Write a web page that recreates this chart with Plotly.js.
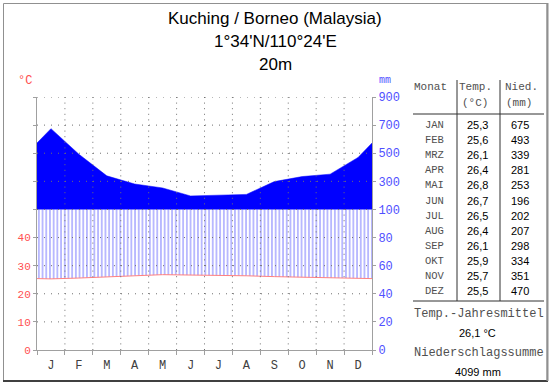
<!DOCTYPE html>
<html>
<head>
<meta charset="utf-8">
<script src="https://cdn.plot.ly/plotly-3.0.1.min.js"></script>
<style>html,body{margin:0;padding:0;background:#fff;}#chart{width:550px;height:384px;}</style>
</head>
<body>
<div id="chart"></div>
<script>
// ---- data ----
const months = ['J','F','M','A','M','J','J','A','S','O','N','D'];
const monthAbbr = ['JAN','FEB','MRZ','APR','MAI','JUN','JUL','AUG','SEP','OKT','NOV','DEZ'];
const temp = [25.3,25.6,26.1,26.4,26.8,26.7,26.5,26.4,26.1,25.9,25.7,25.5];
const precip = [675,493,339,281,253,196,202,207,298,334,351,470];
const leftTickVals = [0,10,20,30,40,50,60,70,80,90];
const leftTickText = ['0','10','20','30','40','','','','',''];
const rightTickText = ['0','20','40','60','80','100','300','500','700','900'];
const titleLines = ['Kuching / Borneo (Malaysia)', "1°34'N/110°24'E", '20m'];

// ---- geometry helpers (pixel -> paper) ----
const L = 37, R = 372, T = 97, B = 350, W = 550, H = 384;
const px = x => (x - L) / (R - L);
const py = y => (B - y) / (B - T);

// Walter-Lieth precipitation scale: 0-100 mm -> 0-50, above 100 mm compressed 1:10
const scaleP = p => p <= 100 ? p / 2 : 50 + (p - 100) / 20;

const xs = [0].concat(months.map((m, i) => i + 0.5)).concat([12]);
const tEdge = (temp[0] + temp[11]) / 2;
const tY = [tEdge].concat(temp).concat([tEdge]);
const pScaled = precip.map(scaleP);
const pEdge = (pScaled[0] + pScaled[11]) / 2;
const pY = [pEdge].concat(pScaled).concat([pEdge]);
const humidTop = pY.map(v => Math.min(v, scaleP(100)));
const base100 = pY.map(() => scaleP(100));

const traces = [
  {x: xs, y: tY, mode: 'lines', line: {width: 0, color: 'rgba(0,0,0,0)'}, hoverinfo: 'skip', showlegend: false},
  {x: xs, y: humidTop, mode: 'lines', line: {width: 0, color: 'rgba(0,0,0,0)'}, fill: 'tonexty',
   fillcolor: 'rgba(0,0,0,0)',
   fillpattern: {shape: '|', size: 3.7, solidity: 0.28, fgcolor: '#8080ff', bgcolor: 'rgba(255,255,255,0)'},
   hoverinfo: 'skip', showlegend: false},
  {x: xs, y: base100, mode: 'lines', line: {width: 0, color: 'rgba(0,0,0,0)'}, hoverinfo: 'skip', showlegend: false},
  {x: xs, y: pY, mode: 'lines', line: {width: 0.5, color: '#0000ff'}, fill: 'tonexty', fillcolor: '#0000ff',
   hoverinfo: 'skip', showlegend: false},
  {x: xs, y: tY, mode: 'lines', line: {width: 1, color: '#ff8080'}, hoverinfo: 'skip', showlegend: false},
  {x: [0, 12], y: [0, 0], yaxis: 'y2', mode: 'lines', line: {width: 0}, hoverinfo: 'skip', showlegend: false}
];

const shapes = [];
// dotted grid above data
for (let i = 1; i < 12; i++) {
  shapes.push({type: 'line', xref: 'x', yref: 'y', x0: i, x1: i, y0: 0, y1: 90, layer: 'above',
    line: {color: '#707070', width: 1, dash: '1px,4.6px'}});
}
for (let j = 1; j <= 9; j++) {
  shapes.push({type: 'line', xref: 'x', yref: 'y', x0: 0, x1: 12, y0: j * 10, y1: j * 10, layer: 'above',
    line: {color: '#707070', width: 1, dash: '1px,6px'}});
}
// outer frame
shapes.push({type: 'rect', xref: 'paper', yref: 'paper', x0: px(3.5), x1: px(547), y0: py(380.5), y1: py(3.5),
  line: {color: '#909090', width: 1}});
shapes.push({type: 'line', xref: 'paper', yref: 'paper', x0: px(3), x1: px(548), y0: py(381), y1: py(381),
  line: {color: '#404040', width: 2}});
shapes.push({type: 'line', xref: 'paper', yref: 'paper', x0: px(547.5), x1: px(547.5), y0: py(3), y1: py(381),
  line: {color: '#909090', width: 2}});
// table lines
[114, 301].forEach(yy => shapes.push({type: 'line', xref: 'paper', yref: 'paper', x0: px(413), x1: px(544),
  y0: py(yy), y1: py(yy), line: {color: '#303030', width: 1}}));
[457, 500].forEach(xx => shapes.push({type: 'line', xref: 'paper', yref: 'paper', x0: px(xx), x1: px(xx),
  y0: py(80), y1: py(301), line: {color: '#303030', width: 1}}));

const mono = 'Liberation Mono, DejaVu Sans Mono, monospace';
const sans = 'Liberation Sans, Arial, sans-serif';
const ann = (text, x, y, size, color, family, xanchor) => ({
  text: text, xref: 'paper', yref: 'paper', x: px(x), y: py(y), showarrow: false,
  xanchor: xanchor || 'center', yanchor: 'middle', font: {size: size, color: color, family: family}
});

const annotations = [];
const titleY = [18, 42, 64];
titleLines.forEach((t, i) => annotations.push(ann(t, 275, titleY[i], 17, '#000', sans)));
annotations.push(ann('°C', 25, 81, 12, '#ff5050', mono));
annotations.push(ann('mm', 385, 81, 10, '#5050ff', mono));
annotations.push(ann('Monat', 430, 87, 11, '#505050', mono));
annotations.push(ann('Temp.', 475, 87, 11, '#505050', mono));
annotations.push(ann('(°C)', 475, 103, 11, '#505050', mono));
annotations.push(ann('Nied.', 521, 87, 11, '#505050', mono));
annotations.push(ann('(mm)', 519, 103, 11, '#505050', mono));
monthAbbr.forEach((m, i) => {
  const yy = 125 + 15.1 * i;
  annotations.push(ann(m, 434.5, yy, 10.5, '#505050', mono));
  annotations.push(ann(temp[i].toFixed(1).replace('.', ','), 490, yy, 11, '#000', sans, 'right'));
  annotations.push(ann(String(precip[i]), 531, yy, 11, '#000', sans, 'right'));
});
const meanT = temp.reduce((a, b) => a + b, 0) / temp.length;
const sumP = precip.reduce((a, b) => a + b, 0);
annotations.push(ann('Temp.-Jahresmittel', 479, 314, 12, '#505050', mono));
annotations.push(ann(meanT.toFixed(1).replace('.', ',') + ' °C', 477, 333, 11, '#000', sans));
annotations.push(ann('Niederschlagssumme', 479, 353, 12, '#505050', mono));
annotations.push(ann(sumP + ' mm', 478, 372, 11, '#000', sans));

const layout = {
  width: W, height: H,
  margin: {l: L, r: W - R, t: T, b: H - B, pad: 0},
  paper_bgcolor: '#fff', plot_bgcolor: '#fff',
  showlegend: false,
  xaxis: {
    range: [0, 12], tickmode: 'array', tickvals: months.map((m, i) => i + 0.5), ticktext: months,
    ticks: '', showgrid: false, zeroline: false, showline: true, linecolor: '#a0a0a0', linewidth: 1,
    tickfont: {family: mono, size: 12, color: '#404040'}, ticklabelstandoff: 4,
    minor: {tickmode: 'array', tickvals: [0,1,2,3,4,5,6,7,8,9,10,11,12], ticks: 'outside', ticklen: 4,
      tickcolor: '#a0a0a0', tickwidth: 1, showgrid: false},
    fixedrange: true
  },
  yaxis: {
    range: [0, 90], tickmode: 'array', tickvals: leftTickVals, ticktext: leftTickText,
    ticks: 'outside', ticklen: 3, tickcolor: '#a0a0a0', showgrid: false, zeroline: false,
    showline: true, linecolor: '#a0a0a0', linewidth: 1,
    tickfont: {family: mono, size: 11, color: '#ff5050'}, fixedrange: true
  },
  yaxis2: {
    overlaying: 'y', side: 'right', range: [0, 90], tickmode: 'array', tickvals: leftTickVals,
    ticktext: rightTickText, ticks: 'outside', ticklen: 3, tickcolor: '#a0a0a0', showgrid: false,
    zeroline: false, showline: true, linecolor: '#a0a0a0', linewidth: 1,
    tickfont: {family: mono, size: 12, color: '#5050ff'}, fixedrange: true
  },
  shapes: shapes,
  annotations: annotations
};

Plotly.newPlot('chart', traces, layout, {staticPlot: true, displayModeBar: false});
</script>
</body>
</html>
